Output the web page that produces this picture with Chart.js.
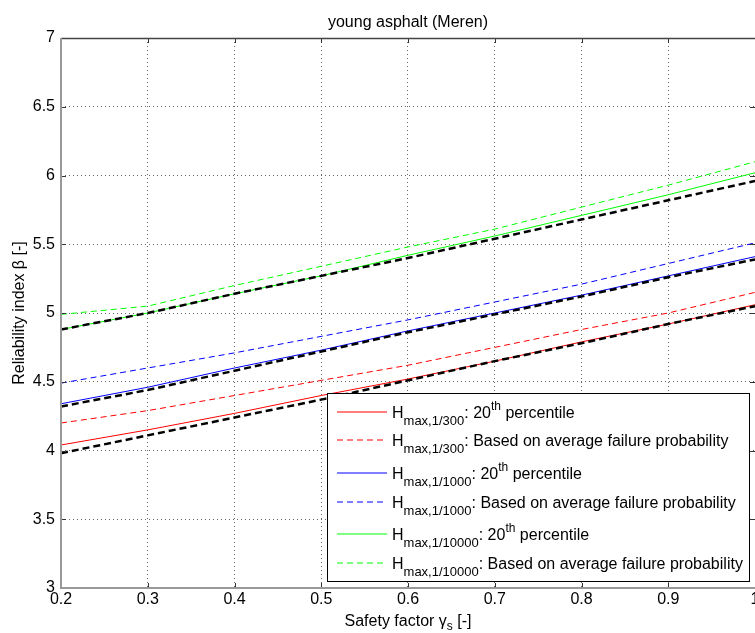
<!DOCTYPE html>
<html>
<head>
<meta charset="utf-8">
<script src="https://cdn.jsdelivr.net/npm/chart.js@4.4.0/dist/chart.umd.min.js"></script>
<style>
  html, body { margin: 0; padding: 0; background: #fff; overflow: hidden; }
  #wrap { width: 755px; height: 633px; overflow: hidden; }
</style>
</head>
<body>
<div id="wrap"><canvas id="chart" width="800" height="633"></canvas></div>
<script>
// safety factor values
const safetyFactors = [0.2, 0.3, 0.4, 0.5, 0.6, 0.7, 0.8, 0.9, 1.0];

// H max 1/300
const h300Pct = [4.04, 4.15, 4.27, 4.40, 4.52, 4.65, 4.79, 4.92, 5.06];
const h300Avg = [4.20, 4.29, 4.40, 4.51, 4.62, 4.75, 4.88, 5.00, 5.15];
const h300Ref = [3.98, 4.11, 4.24, 4.37, 4.51, 4.65, 4.78, 4.92, 5.05];

// H max 1/1000
const h1000Pct = [4.34, 4.46, 4.60, 4.73, 4.87, 5.00, 5.13, 5.27, 5.41];
const h1000Avg = [4.49, 4.60, 4.71, 4.83, 4.95, 5.08, 5.21, 5.36, 5.51];
const h1000Ref = [4.32, 4.44, 4.58, 4.72, 4.86, 4.99, 5.12, 5.26, 5.39];

// H max 1/10000
const h10000Pct = [4.88, 5.00, 5.14, 5.27, 5.42, 5.56, 5.71, 5.86, 6.02];
const h10000Avg = [4.99, 5.05, 5.20, 5.34, 5.48, 5.61, 5.77, 5.93, 6.10];
const h10000Ref = [4.88, 5.00, 5.14, 5.27, 5.40, 5.54, 5.68, 5.82, 5.96];

const legendSubs = ['max,1/300', 'max,1/300', 'max,1/1000', 'max,1/1000', 'max,1/10000', 'max,1/10000'];
const legendIsPercentile = [true, false, true, false, true, false];

const chartTitle = 'young asphalt (Meren)';
const FONT = "'Liberation Sans', Arial, Helvetica, sans-serif";

function pts(values) {
    return values.map((v, i) => ({ x: safetyFactors[i], y: v }));
}

function colored(values, color, dashed) {
    return {
        data: pts(values),
        borderColor: color,
        borderWidth: 1,
        borderDash: dashed ? [6, 4] : [],
        pointRadius: 0,
        tension: 0,
        fill: false,
    };
}

function reference(values) {
    return {
        data: pts(values),
        borderColor: '#000',
        borderWidth: 2.5,
        borderDash: [7, 4],
        pointRadius: 0,
        tension: 0,
        fill: false,
        order: -1,
    };
}

const decorations = {
    id: 'decorations',
    afterDatasetsDraw(chart) {
        const { ctx, chartArea: a, scales: { x, y } } = chart;
        ctx.save();
        ctx.setLineDash([]);
        ctx.strokeStyle = '#333';
        ctx.lineWidth = 1;
        ctx.beginPath();
        x.ticks.forEach((t) => {
            const px = Math.round(x.getPixelForValue(t.value)) + 0.5;
            ctx.moveTo(px, a.bottom);
            ctx.lineTo(px, a.bottom - 5);
            ctx.moveTo(px, a.top);
            ctx.lineTo(px, a.top + 5);
        });
        y.ticks.forEach((t) => {
            const py = Math.round(y.getPixelForValue(t.value)) + 0.5;
            ctx.moveTo(a.left, py);
            ctx.lineTo(a.left + 5, py);
            ctx.moveTo(a.right, py);
            ctx.lineTo(a.right - 5, py);
        });
        ctx.stroke();

        // axes frame
        ctx.strokeStyle = '#444';
        ctx.lineWidth = 1.5;
        ctx.beginPath();
        ctx.moveTo(a.left, a.top + 0.5);
        ctx.lineTo(a.right, a.top + 0.5);
        ctx.stroke();
        ctx.strokeStyle = '#999';
        ctx.lineWidth = 2;
        ctx.beginPath();
        ctx.moveTo(a.left, a.top);
        ctx.lineTo(a.left, a.bottom);
        ctx.lineTo(a.right, a.bottom);
        ctx.stroke();
        ctx.restore();
    },
    afterDraw(chart) {
        const { ctx, chartArea: a } = chart;
        const cx = (a.left + a.right) / 2;
        ctx.save();
        ctx.fillStyle = '#000';

        // title
        ctx.font = `16px ${FONT}`;
        ctx.textAlign = 'center';
        ctx.textBaseline = 'alphabetic';
        ctx.fillText(chartTitle, cx, 27);

        // x axis title with subscript
        const p1 = 'Safety factor \u03b3';
        const p2 = 's';
        const p3 = ' [-]';
        ctx.font = `16px ${FONT}`;
        const w1 = ctx.measureText(p1).width;
        const w3 = ctx.measureText(p3).width;
        ctx.font = `12px ${FONT}`;
        const w2 = ctx.measureText(p2).width;
        let tx = cx - (w1 + w2 + w3) / 2;
        ctx.textAlign = 'left';
        ctx.font = `16px ${FONT}`;
        ctx.fillText(p1, tx, 626);
        tx += w1;
        ctx.font = `12px ${FONT}`;
        ctx.fillText(p2, tx, 630);
        tx += w2;
        ctx.font = `16px ${FONT}`;
        ctx.fillText(p3, tx, 626);

        // y axis title
        ctx.save();
        ctx.translate(20, (a.top + a.bottom) / 2);
        ctx.rotate(-Math.PI / 2);
        ctx.textAlign = 'center';
        ctx.textBaseline = 'middle';
        ctx.fillText('Reliability index \u03b2 [-]', 0, 0);
        ctx.restore();

        // legend
        const rowsY = [412, 440, 473, 502, 534, 563];
        ctx.fillStyle = '#fff';
        ctx.fillRect(327.5, 393.5, 422, 188);
        ctx.strokeStyle = '#000';
        ctx.lineWidth = 1;
        ctx.strokeRect(327.5, 393.5, 422, 188);
        chart.data.datasets.slice(0, 6).forEach((ds, i) => {
            const ry = rowsY[i];
            ctx.strokeStyle = chart.getDatasetMeta(i).dataset.options.borderColor;
            ctx.lineWidth = 1.2;
            ctx.setLineDash(ds.borderDash);
            ctx.beginPath();
            ctx.moveTo(337, ry);
            ctx.lineTo(387, ry);
            ctx.stroke();
            ctx.setLineDash([]);

            const base = ry + 5.5;
            let lx = 392;
            ctx.fillStyle = '#000';
            ctx.textAlign = 'left';
            ctx.textBaseline = 'alphabetic';
            ctx.font = `16px ${FONT}`;
            ctx.fillText('H', lx, base);
            lx += ctx.measureText('H').width;
            ctx.font = `13px ${FONT}`;
            ctx.fillText(legendSubs[i], lx, base + 7);
            lx += ctx.measureText(legendSubs[i]).width;
            ctx.font = `16px ${FONT}`;
            if (legendIsPercentile[i]) {
                ctx.fillText(': 20', lx, base);
                lx += ctx.measureText(': 20').width;
                ctx.font = `12px ${FONT}`;
                ctx.fillText('th', lx, base - 8);
                lx += ctx.measureText('th').width;
                ctx.font = `16px ${FONT}`;
                ctx.fillText(' percentile', lx, base);
            } else {
                ctx.fillText(': Based on average failure probability', lx, base);
            }
        });
        ctx.restore();
    },
};

new Chart(document.getElementById('chart'), {
    type: 'line',
    data: {
        datasets: [
            colored(h300Pct, '#ff0000', false),
            colored(h300Avg, '#ff0000', true),
            colored(h1000Pct, '#0000ff', false),
            colored(h1000Avg, '#0000ff', true),
            colored(h10000Pct, '#00ff00', false),
            colored(h10000Avg, '#00ff00', true),
            reference(h300Ref),
            reference(h1000Ref),
            reference(h10000Ref),
        ],
    },
    options: {
        responsive: false,
        animation: false,
        events: [],
        layout: {
            padding: { top: 38, right: 45, bottom: 0, left: 0 },
        },
        plugins: {
            legend: { display: false },
            title: { display: false },
            tooltip: { enabled: false },
        },
        scales: {
            x: {
                type: 'linear',
                min: 0.2,
                max: 1,
                afterFit(scale) { scale.height = 45; },
                ticks: {
                    stepSize: 0.1,
                    padding: 2,
                    color: '#000',
                    font: { family: FONT, size: 16 },
                    callback: (v) => String(Number(v.toFixed(1))),
                },
                grid: { color: '#666', lineWidth: 1, drawTicks: false },
                border: { display: false, dash: [1, 3] },
            },
            y: {
                min: 3,
                max: 7,
                afterFit(scale) { scale.width = 61; },
                ticks: {
                    stepSize: 0.5,
                    padding: 6,
                    color: '#000',
                    font: { family: FONT, size: 16 },
                    callback: (v) => String(Number(v.toFixed(1))),
                },
                grid: { color: '#666', lineWidth: 1, drawTicks: false },
                border: { display: false, dash: [1, 3] },
            },
        },
    },
    plugins: [decorations],
});
</script>
</body>
</html>
